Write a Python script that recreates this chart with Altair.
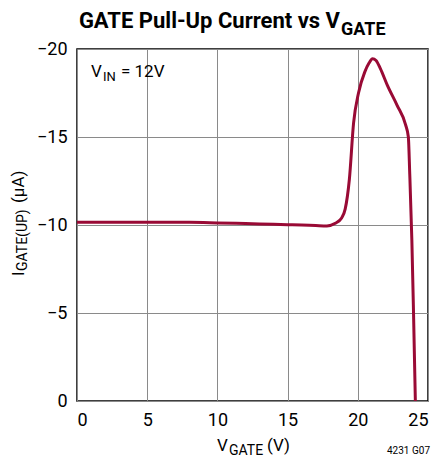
import altair as alt
import pandas as pd

# Data
vgate = [0, 2, 4, 6, 8, 10, 12, 14, 15, 16, 17, 17.8, 18.4, 18.85, 19.1, 19.4, 19.7,
         20.05, 20.5, 20.8, 21.05, 21.3, 21.6, 22.1, 22.8, 23.4, 23.6, 23.7, 23.85, 23.97, 24.1]
igate = [-10.15, -10.15, -10.15, -10.15, -10.15, -10.12, -10.08, -10.04, -10.02, -10.0, -9.97,
         -9.95, -10.1, -10.4, -10.9, -12.6, -15.8, -17.5, -18.7, -19.2, -19.45, -19.35, -18.9,
         -17.95, -16.8, -15.7, -15.0, -12.9, -9.15, -4.98, 0]
x_ticks = [0, 5, 10, 15, 20, 25]
y_ticks = [0, -5, -10, -15, -20]

FONT = "Roboto"
W, H = 351, 352

df = pd.DataFrame({"v": vgate, "i": igate})

axis_common = dict(title=None, ticks=False, domain=False, labelFontSize=18, labelPadding=10,
                   labelFont=FONT, labelColor="black", gridColor="#8a8a8a", gridWidth=1)

line = alt.Chart(df).mark_line(color="#990a35", strokeWidth=3, interpolate="monotone").encode(
    x=alt.X("v:Q", scale=alt.Scale(domain=[0, 25], nice=False),
            axis=alt.Axis(values=x_ticks, **axis_common)),
    y=alt.Y("i:Q", scale=alt.Scale(domain=[0, -20], nice=False),
            axis=alt.Axis(values=y_ticks, **axis_common)),
)

one = pd.DataFrame({"d": [0]})


def txt(s, x, y, size, bold=False, align="left", angle=0):
    kw = dict(text=s, font=FONT, fontSize=size, align=align, baseline="alphabetic",
              color="black", fontWeight="bold" if bold else "normal")
    if angle:
        kw["angle"] = angle
    return alt.Chart(one).mark_text(**kw).encode(x=alt.value(x), y=alt.value(y))


layers = [
    line,
    # title
    txt("GATE Pull-Up Current vs V", 263, -21, 22, bold=True, align="right"),
    txt("GATE", 264, -14, 18, bold=True),
    # x title
    txt("V", 140, 402, 17),
    txt("GATE", 152, 406, 14),
    txt("(V)", 190, 402, 17),
    # y title (rotated)
    txt("I", -53, 227, 17, angle=270),
    txt("GATE(UP)", -50, 222, 14, angle=270),
    txt("(µA)", -53, 154, 17, angle=270),
    # annotation
    txt("V", 14, 28, 17),
    txt("IN", 26, 32, 13),
    txt("= 12V", 44, 28, 17),
    # figure code
    txt("4231 G07", 353, 405, 10, align="right"),
]

chart = alt.layer(*layers).properties(
    width=W, height=H,
    autosize=alt.AutoSizeParams(type="none"),
    padding={"left": 69, "top": 41, "right": 3, "bottom": 57},
).configure_view(stroke="black", strokeWidth=1.5)

chart.save("out.html", embed_options={"renderer": "svg", "actions": False})
